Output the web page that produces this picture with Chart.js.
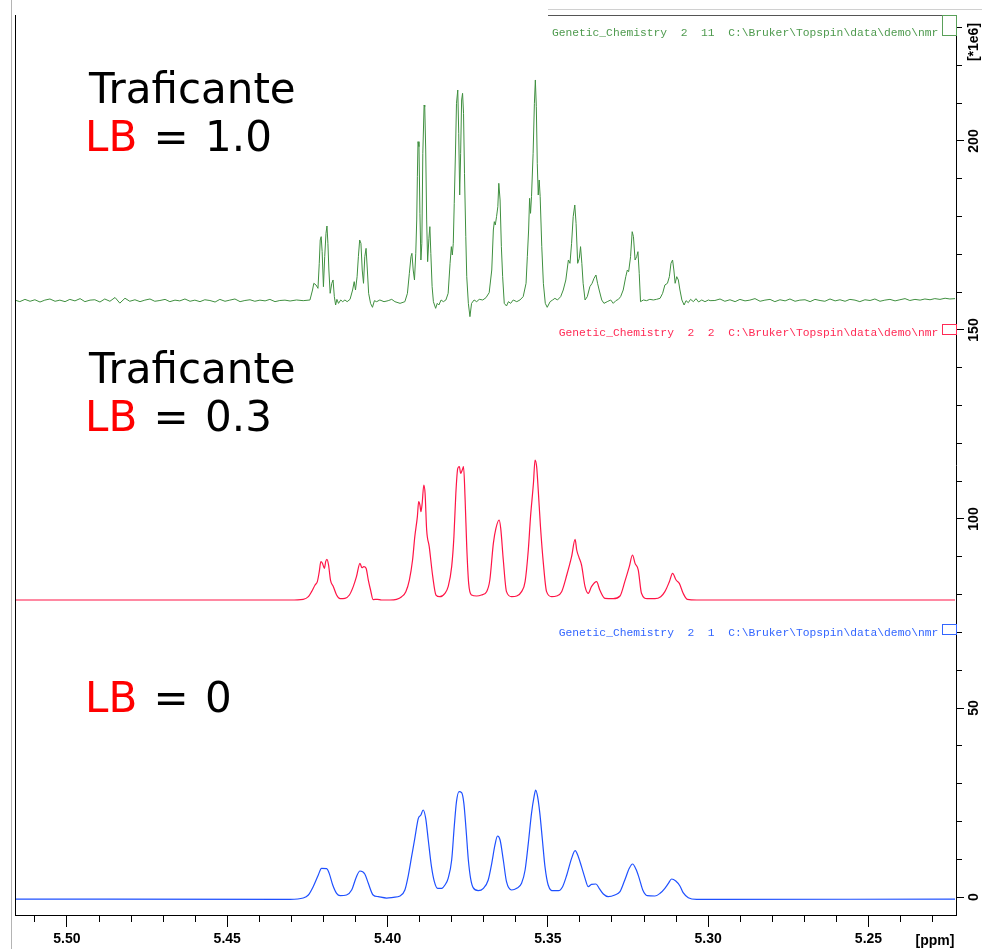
<!DOCTYPE html>
<html>
<head>
<meta charset="utf-8">
<script src="https://cdn.jsdelivr.net/npm/chart.js@4.4.1/dist/chart.umd.min.js"></script>
<style>
  html, body { margin: 0; padding: 0; background: #fff; }
  #wrap { position: relative; width: 982px; height: 949px; overflow: hidden; background: #fff; }
  #c { position: absolute; left: 0; top: 0; }
  .ann { position: absolute; font-family: "DejaVu Sans", Verdana, sans-serif; font-size: 42px; line-height: 42px; color: #000; white-space: pre; word-spacing: 3px; }
  .red { color: #ff0000; }
  .hdr { position: absolute; font-family: "Liberation Mono", "DejaVu Sans Mono", monospace; font-size: 11.3px; line-height: 11.3px; white-space: pre; text-align: right; }
  .rot { position: absolute; font-family: "Liberation Sans", Arial, sans-serif; font-weight: bold; font-size: 14px; line-height: 14px; white-space: pre; transform: translate(-50%, -50%) rotate(-90deg); color: #000; }
  .unit { position: absolute; font-family: "Liberation Sans", Arial, sans-serif; font-weight: bold; font-size: 14px; line-height: 14px; white-space: pre; transform: translate(-50%, -50%); color: #000; }
  .box { position: absolute; box-sizing: border-box; border: 1px solid; background: transparent; }
  .gline { position: absolute; background: #b4b4b4; }
</style>
</head>
<body>
<div id="wrap">
  <canvas id="c" width="982" height="949"></canvas>
  <div class="gline" style="left:11px; top:0; width:1px; height:949px;"></div>
  <div class="gline" style="left:548px; top:9px; width:434px; height:1px; background:#d0d0d0;"></div>

  <div class="ann" style="left:89px; top:67.8px;">Traficante</div>
  <div class="ann" style="left:85px; top:116.2px;"><span class="red">LB</span> = 1.0</div>
  <div class="ann" style="left:89px; top:347.5px;">Traficante</div>
  <div class="ann" style="left:85px; top:396px;"><span class="red">LB</span> = 0.3</div>
  <div class="ann" style="left:85px; top:676.5px;"><span class="red">LB</span> = 0</div>

  <div class="hdr" style="right:43.7px; top:28px; color:#4e9a4e;">Genetic_Chemistry  2  11  C:\Bruker\Topspin\data\demo\nmr</div>
  <div class="hdr" style="right:43.7px; top:328px; color:#ff2a55;">Genetic_Chemistry  2  2  C:\Bruker\Topspin\data\demo\nmr</div>
  <div class="hdr" style="right:43.7px; top:628px; color:#3366ff;">Genetic_Chemistry  2  1  C:\Bruker\Topspin\data\demo\nmr</div>

  <div class="box" style="left:942px; top:15px; width:15px; height:21px; border-color:#5aa05a;"></div>
  <div class="box" style="left:942px; top:324px; width:15px; height:11px; border-color:#ff2a55;"></div>
  <div class="box" style="left:942px; top:624px; width:15px; height:11px; border-color:#3366ff;"></div>

  <div class="rot" style="left:973px; top:42px;">[*1e6]</div>
  <div class="unit" style="left:935px; top:940px;">[ppm]</div>
</div>
<script>
// ---------- axis ranges & ticks ----------
const xMin = 5.2227, xMax = 5.5162;
const yMin = -4.76, yMax = 233.33;
const xTicks = [5.51, 5.50, 5.49, 5.48, 5.47, 5.46, 5.45, 5.44, 5.43, 5.42, 5.41, 5.40, 5.39, 5.38, 5.37, 5.36, 5.35, 5.34, 5.33, 5.32, 5.31, 5.30, 5.29, 5.28, 5.27, 5.26, 5.25, 5.24, 5.23];
const xLabelTicks = [5.50, 5.45, 5.40, 5.35, 5.30, 5.25];
const yTicks = [0, 10, 20, 30, 40, 50, 60, 70, 80, 90, 100, 110, 120, 130, 140, 150, 160, 170, 180, 190, 200, 210, 220, 230];
const yLabelTicks = [0, 50, 100, 150, 200];

// ---------- spectrum LB = 1.0 (green) ----------
const greenPpm = [
 5.5162,5.5147,5.5131,5.5115,5.5100,5.5084,5.5069,5.5053,5.5037,5.5022,5.5006,5.4991,5.4975,5.4959,5.4944,5.4928,5.4913,5.4897,5.4882,5.4866,5.4850,5.4835,5.4819,5.4804,5.4788,5.4772,5.4757,5.4741,5.4726,5.4710,5.4694,5.4679,5.4663,5.4648,5.4632,5.4616,5.4601,5.4585,5.4570,5.4554,5.4538,5.4523,5.4507,5.4492,5.4476,5.4460,5.4445,5.4429,5.4414,5.4398,5.4382,5.4367,5.4351,5.4336,5.4320,
 5.4304,5.4284,5.4263,5.4242,5.4234,5.4230,5.4223,5.4217,5.4213,5.4210,5.4207,5.4204,5.4200,5.4196,5.4192,5.4189,5.4186,5.4183,5.4179,5.4174,5.4170,5.4166,5.4162,5.4158,5.4153,5.4146,5.4140,5.4133,5.4126,5.4117,
 5.4109,5.4104,5.4100,5.4095,5.4091,5.4087,5.4083,5.4079,5.4075,5.4071,5.4067,5.4063,5.4059,5.4053,5.4047,5.4041,5.4034,5.4024,5.4011,5.3998,5.3987,5.3977,5.3961,5.3946,
 5.3938,5.3932,5.3927,5.3924,5.3920,5.3916,5.3912,5.3909,5.3907,5.3905,5.3902,5.3899,5.3896,5.3893,5.3890,5.3886,5.3884,5.3881,5.3878,5.3875,5.3871,5.3868,5.3865,5.3861,5.3857,5.3850,5.3845,5.3840,5.3833,5.3826,5.3818,
 5.3811,5.3805,5.3801,5.3798,5.3795,5.3792,5.3788,5.3785,5.3781,5.3778,5.3775,5.3772,5.3769,5.3766,5.3763,5.3760,5.3756,5.3753,5.3748,5.3743,5.3738,5.3730,5.3722,5.3714,5.3703,5.3693,5.3683,
 5.3675,5.3670,5.3667,5.3664,5.3660,5.3656,5.3653,5.3649,5.3645,5.3641,5.3636,5.3629,5.3623,5.3616,5.3608,5.3597,5.3587,5.3577,
 5.3568,5.3564,5.3560,5.3557,5.3554,5.3551,5.3546,5.3542,5.3539,5.3536,5.3533,5.3530,5.3527,5.3524,5.3519,5.3514,5.3508,5.3502,5.3493,5.3485,5.3478,5.3470,5.3460,
 5.3452,5.3444,5.3436,5.3431,5.3426,5.3421,5.3416,5.3412,5.3407,5.3402,5.3398,5.3394,5.3390,5.3384,5.3377,5.3369,5.3362,5.3356,5.3350,5.3345,5.3340,5.3332,5.3325,5.3315,5.3304,5.3296,5.3288,5.3280,5.3273,
 5.3265,5.3257,5.3252,5.3248,5.3242,5.3237,5.3233,5.3228,5.3223,5.3219,5.3215,5.3211,5.3202,5.3192,5.3182,5.3171,5.3161,5.3150,
 5.3142,5.3135,5.3127,5.3121,5.3116,5.3111,5.3107,5.3103,5.3098,5.3093,5.3088,5.3082,5.3075,5.3069,5.3062,5.3055,5.3046,5.3038,5.3030,5.3020,5.3010,5.2999,5.2994,
 5.2979,5.2963,5.2948,5.2932,5.2916,5.2901,5.2885,5.2870,5.2854,5.2838,5.2823,5.2807,5.2792,5.2776,5.2760,5.2745,5.2729,5.2714,5.2698,5.2682,5.2667,5.2651,5.2636,5.2620,5.2604,5.2589,5.2573,5.2558,5.2542,5.2527,5.2511,5.2495,5.2480,5.2464,5.2449,5.2433,5.2417,5.2402,5.2386,5.2371,5.2355,5.2339,5.2324,5.2308,5.2293,5.2277,5.2261,5.2246,5.2230
];
const greenInt = [
 157.9,157.5,158.1,157.6,158.0,157.4,157.9,158.2,157.6,157.9,157.5,158.1,157.7,158.3,157.5,157.9,158.0,157.4,158.2,157.6,158.6,157.1,158.4,157.6,158.0,157.5,157.9,158.2,157.6,157.8,158.1,157.5,157.9,157.7,158.2,157.6,157.9,157.5,158.0,157.8,157.4,158.1,157.6,157.9,158.2,157.5,157.8,158.0,157.6,157.9,157.7,158.1,157.5,157.8,157.9,
 157.67,157.94,157.76,157.94,160.58,162.35,161.90,161.02,167.64,173.81,174.69,170.72,161.46,169.40,175.57,177.51,172.93,165.87,159.70,162.35,163.23,158.82,156.61,158.11,157.05,157.94,157.49,157.94,157.49,158.11,
 160.58,162.79,160.58,164.11,169.40,173.81,172.93,165.87,162.35,169.40,171.60,165.87,159.70,157.05,156.00,157.76,157.49,157.94,157.49,157.76,158.11,157.49,157.05,157.49,
 159.70,164.99,169.40,170.28,165.87,163.23,170.28,179.10,190.56,199.82,198.50,180.86,168.52,172.93,196.74,209.52,209.08,197.62,179.10,168.08,174.25,177.34,170.28,161.46,157.49,155.73,157.05,156.61,157.94,157.49,157.94,
 159.70,167.64,172.05,169.84,172.93,183.51,197.62,209.97,213.49,202.03,185.71,196.74,210.85,212.61,207.32,191.45,174.69,164.11,157.05,153.53,157.05,157.94,157.49,158.11,157.94,158.55,159.87,
 165.87,176.45,178.66,177.78,179.98,182.63,188.80,184.39,172.05,164.11,157.05,156.35,157.49,157.05,157.94,157.49,157.94,158.82,
 162.35,169.40,176.45,184.83,180.86,185.27,196.74,209.97,216.14,209.08,194.09,185.71,189.68,185.27,172.05,162.35,157.05,156.00,157.49,157.94,158.38,157.94,158.82,
 160.58,163.23,168.52,167.64,172.93,179.98,183.07,178.22,167.64,168.96,172.05,167.64,162.35,157.94,158.82,161.46,162.35,163.67,164.55,162.35,160.58,157.94,157.05,157.49,157.94,157.05,157.76,158.11,158.82,
 160.58,164.11,165.87,165.43,169.40,176.01,174.69,168.52,169.40,170.72,164.99,157.49,157.94,157.76,158.11,157.94,158.11,158.38,
 159.70,161.90,162.35,164.11,167.64,168.52,165.87,162.35,164.11,163.23,160.58,157.94,156.61,157.76,157.23,158.11,157.49,158.29,157.41,157.94,157.49,157.94,157.76,
 157.8,158.2,157.6,158.0,157.5,158.1,157.7,157.9,158.3,157.6,157.9,158.1,157.5,158.0,157.7,158.2,157.6,157.9,158.0,157.5,158.1,157.8,157.6,158.2,157.7,158.0,157.6,158.1,157.9,157.5,158.0,157.8,158.2,157.6,157.9,158.1,157.7,158.0,158.3,157.8,158.1,157.9,158.2,158.0,158.3,158.1,158.4,158.2,158.3
];

// ---------- spectrum LB = 0.3 (red) ----------
const redPpm = [
 5.5162,5.4304,5.4263,5.4247,5.4237,5.4226,5.4219,5.4213,5.4208,5.4203,5.4197,5.4193,5.4189,5.4184,5.4178,5.4169,5.4159,5.4148,5.4133,5.4119,
 5.4107,5.4097,5.4086,5.4080,5.4074,5.4067,5.4060,5.4053,5.4045,5.4032,5.4019,5.3993,5.3972,5.3956,5.3943,5.3932,5.3922,5.3915,5.3907,5.3903,
 5.3899,5.3896,5.3892,5.3887,5.3883,5.3878,5.3870,5.3859,5.3849,5.3837,5.3821,5.3811,5.3800,5.3793,5.3787,5.3781,5.3776,5.3772,5.3767,5.3763,
 5.3758,5.3753,5.3747,5.3738,5.3722,5.3707,5.3691,5.3681,5.3670,5.3662,5.3652,5.3647,5.3639,5.3629,5.3613,5.3597,5.3582,5.3571,5.3561,5.3554,
 5.3545,5.3540,5.3535,5.3530,5.3523,5.3514,5.3504,5.3488,5.3473,5.3457,5.3441,5.3426,5.3415,5.3410,5.3403,5.3395,5.3384,5.3374,5.3364,5.3348,
 5.3338,5.3322,5.3296,5.3275,5.3260,5.3246,5.3236,5.3228,5.3218,5.3208,5.3190,5.3166,5.3148,5.3135,5.3121,5.3111,5.3100,5.3090,5.3078,5.3065,
 5.3036,5.2994,5.2230
];
const redInt = [
 78.57,78.57,78.75,79.45,80.78,82.54,83.42,86.07,88.71,88.27,86.95,88.71,89.33,87.83,83.86,82.10,79.89,78.92,79.01,79.89,
 82.10,84.74,88.27,87.12,87.39,86.95,83.86,81.22,78.68,78.75,78.57,78.57,78.75,79.45,80.78,83.86,89.15,95.33,100.62,104.58,
 103.70,101.94,104.14,109.00,106.79,97.09,92.68,84.74,79.89,79.45,80.34,82.10,87.39,95.33,106.79,113.40,113.84,112.08,112.96,113.84,
 105.03,92.68,82.98,79.89,79.63,79.89,80.78,83.86,93.56,97.53,99.73,97.53,89.15,80.78,79.45,79.63,80.78,83.42,91.80,100.62,
 109.44,115.61,113.84,107.67,97.97,88.27,80.78,79.45,79.63,80.78,85.19,90.04,94.62,91.80,89.86,87.83,82.10,80.34,82.10,83.42,
 81.22,79.01,78.92,79.63,83.42,87.39,90.47,88.27,86.50,80.34,78.92,78.92,79.45,80.78,83.42,85.63,83.86,82.98,80.34,78.75,
 78.57,78.57,78.57
];

// ---------- spectrum LB = 0 (blue) ----------
const bluePpm = [
 5.5162,5.4304,5.4263,5.4247,5.4232,5.4216,5.4206,5.4190,5.4182,5.4171,5.4159,5.4148,5.4128,5.4112,5.4097,5.4086,5.4071,5.4060,5.4045,5.4029,
 5.4003,5.3982,5.3961,5.3946,5.3935,5.3925,5.3915,5.3904,5.3896,5.3889,5.3881,5.3873,5.3863,5.3854,5.3844,5.3831,5.3821,5.3811,5.3800,5.3792,
 5.3785,5.3777,5.3769,5.3762,5.3755,5.3748,5.3741,5.3733,5.3717,5.3701,5.3686,5.3675,5.3665,5.3657,5.3649,5.3639,5.3629,5.3613,5.3597,5.3582,
 5.3571,5.3561,5.3551,5.3543,5.3538,5.3532,5.3525,5.3517,5.3509,5.3499,5.3483,5.3467,5.3454,5.3441,5.3426,5.3415,5.3405,5.3395,5.3384,5.3374,
 5.3364,5.3350,5.3340,5.3327,5.3312,5.3291,5.3275,5.3260,5.3246,5.3236,5.3225,5.3215,5.3204,5.3190,5.3166,5.3150,5.3135,5.3124,5.3114,5.3101,
 5.3088,5.3078,5.3062,5.3036,5.2994,5.2230
];
const blueInt = [
 -0.55,-0.62,-0.27,0.53,2.73,5.82,7.58,7.49,6.26,3.17,0.97,0.35,0.53,1.85,5.38,6.88,6.09,3.62,0.53,0.09,
 -0.27,-0.09,0.26,1.85,5.82,10.67,15.52,20.81,21.69,23.02,20.81,15.08,8.02,4.05,2.29,2.29,3.17,4.94,9.79,18.61,
 25.22,27.87,27.60,24.78,17.72,9.79,4.94,2.47,1.68,2.29,4.50,8.91,13.76,16.14,15.08,9.79,4.05,1.85,2.29,3.62,
 7.14,14.20,22.13,26.54,28.31,26.54,22.13,15.08,8.02,3.17,1.68,1.68,2.73,5.82,10.23,12.26,10.67,8.02,4.94,2.73,
 3.35,3.44,2.29,0.79,0.09,0.53,1.41,4.50,7.58,8.73,7.32,4.94,1.85,0.35,0.26,0.97,2.29,3.62,4.76,4.23,
 2.91,1.14,-0.18,-0.62,-0.62,-0.55
];

// ---------- colours ----------
const GREEN = '#3f8f3f';
const RED = '#ff1446';
const BLUE = '#1e50ff';

const toPoints = (xs, ys) => xs.map((x, i) => ({ x: x, y: ys[i] }));
const isIn = (arr, v) => arr.some(t => Math.abs(t - v) < 1e-6);

const framePlugin = {
  id: 'frame',
  afterDraw(chart) {
    const { ctx, chartArea: a } = chart;
    ctx.save();
    ctx.lineWidth = 1;
    ctx.strokeStyle = '#000';
    ctx.beginPath();
    ctx.moveTo(a.left + 0.5, a.top);
    ctx.lineTo(a.left + 0.5, a.bottom);
    ctx.stroke();
    ctx.strokeStyle = '#555';
    ctx.beginPath();
    ctx.moveTo(548, a.top + 0.5);
    ctx.lineTo(a.right, a.top + 0.5);
    ctx.stroke();
    ctx.restore();
  }
};

const tickFont = { family: '"Liberation Sans", Arial, sans-serif', size: 14, weight: 'bold' };

new Chart(document.getElementById('c'), {
  type: 'line',
  data: {
    datasets: [
      { label: 'LB = 1.0', data: toPoints(greenPpm, greenInt), borderColor: GREEN, borderWidth: 1, pointRadius: 0, tension: 0, fill: false },
      { label: 'LB = 0.3', data: toPoints(redPpm, redInt), borderColor: RED, borderWidth: 1.2, pointRadius: 0, cubicInterpolationMode: 'monotone', fill: false },
      { label: 'LB = 0', data: toPoints(bluePpm, blueInt), borderColor: BLUE, borderWidth: 1.2, pointRadius: 0, cubicInterpolationMode: 'monotone', fill: false }
    ]
  },
  options: {
    responsive: false,
    animation: false,
    devicePixelRatio: 1,
    layout: { padding: { left: 15, top: 15, right: 0, bottom: 0 } },
    plugins: { legend: { display: false }, tooltip: { enabled: false } },
    scales: {
      x: {
        type: 'linear', position: 'bottom', reverse: true, bounds: 'data',
        min: xMin, max: xMax,
        afterBuildTicks: s => { s.ticks = xTicks.map(v => ({ value: v })); },
        afterFit: s => { s.height = 34; },
        grid: {
          drawOnChartArea: false, drawTicks: true, tickLength: 12, tickColor: '#000', tickWidth: 1,
          tickBorderDash: c => (c.tick && isIn(xLabelTicks, c.tick.value)) ? [] : [6, 100]
        },
        border: { display: true, color: '#000', width: 1 },
        ticks: {
          autoSkip: false, maxRotation: 0, minRotation: 0, padding: 4, color: '#000', font: tickFont,
          callback: v => isIn(xLabelTicks, v) ? v.toFixed(2) : ''
        }
      },
      y: {
        type: 'linear', position: 'right', bounds: 'data',
        min: yMin, max: yMax,
        afterBuildTicks: s => { s.ticks = yTicks.map(v => ({ value: v })); },
        afterFit: s => { s.width = 26; },
        grid: {
          drawOnChartArea: false, drawTicks: true, tickLength: 8, tickColor: '#000', tickWidth: 1,
          tickBorderDash: c => (c.tick && isIn(yLabelTicks, c.tick.value)) ? [] : [5, 100]
        },
        border: { display: true, color: '#000', width: 1 },
        ticks: {
          autoSkip: false, minRotation: 90, maxRotation: 90, crossAlign: 'center', padding: -2, color: '#000', font: tickFont,
          callback: v => isIn(yLabelTicks, v) ? String(v) : ''
        }
      }
    }
  },
  plugins: [framePlugin]
});
</script>
</body>
</html>
